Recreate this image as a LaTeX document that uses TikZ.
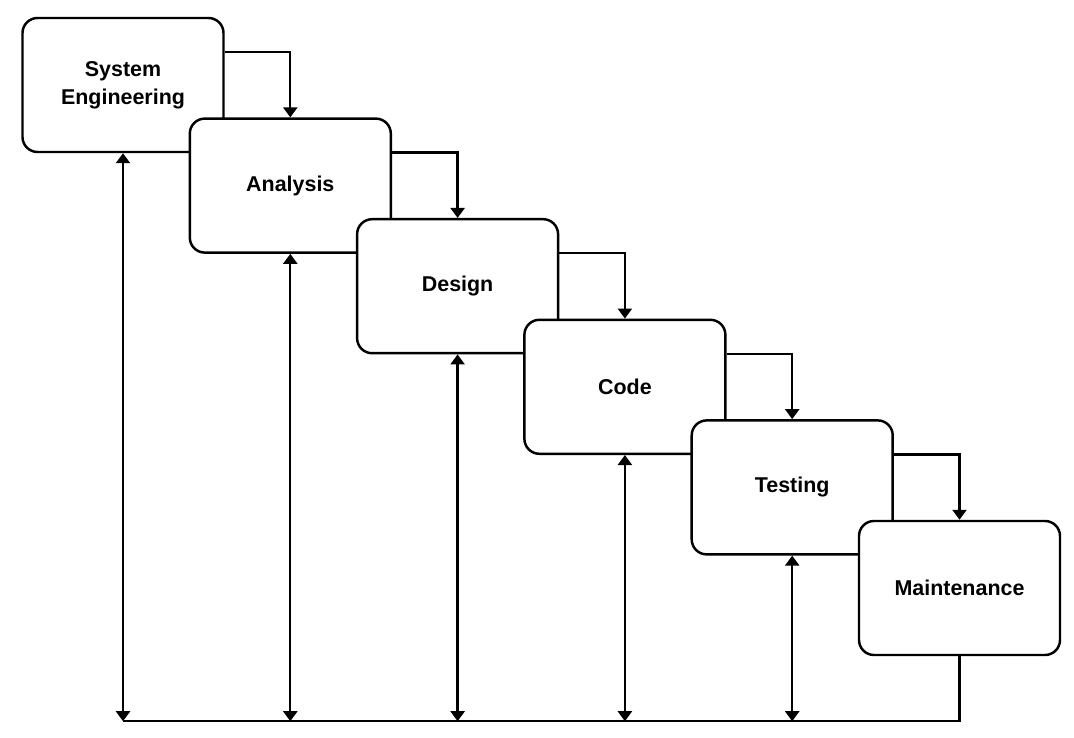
\documentclass[tikz,border=0pt]{standalone}
\usepackage{fontspec}
\setmainfont{Liberation Sans}
\usetikzlibrary{positioning, arrows.meta}

\begin{document}
\begin{tikzpicture}[node distance=2.012cm and 3.346cm,on grid,
  phase/.style={draw,line width=1.4pt,fill=white,rounded corners=0.3cm,
    minimum width=4.02cm,minimum height=2.68cm,align=center,
    font=\fontsize{12.2}{15.9}\selectfont\bfseries},
  flow/.style={line width=1.3pt,-{Triangle[width=0.28cm,length=0.2cm]}},
  back/.style={line width=1.3pt,{Triangle[width=0.28cm,length=0.2cm]}-{Triangle[width=0.28cm,length=0.2cm]}}]
\useasboundingbox (0,0) rectangle (21.48,-14.76);

\node[phase] (se) at (2.46,-1.70) {System\\Engineering};
\node[phase] (an) [below right=of se] {Analysis};
\node[phase] (de) [below right=of an] {Design};
\node[phase] (co) [below right=of de] {Code};
\node[phase] (te) [below right=of co] {Testing};
\node[phase] (mt) [below right=of te] {Maintenance};

% forward flow
\draw[flow] ([yshift=0.66cm]se.east) -| (an.north);
\draw[flow] ([yshift=0.66cm]an.east) -| (de.north);
\draw[flow] ([yshift=0.66cm]de.east) -| (co.north);
\draw[flow] ([yshift=0.66cm]co.east) -| (te.north);
\draw[flow] ([yshift=0.66cm]te.east) -| (mt.north);

% feedback
\coordinate (bot) at ([yshift=-1.3cm]mt.south);
\draw[line width=1.3pt] (mt.south) -- (bot) -- (se.south |- bot);
\foreach \n in {se,an,de,co,te}
  \draw[back] (\n.south) -- (\n.south |- bot);
\end{tikzpicture}
\end{document}
